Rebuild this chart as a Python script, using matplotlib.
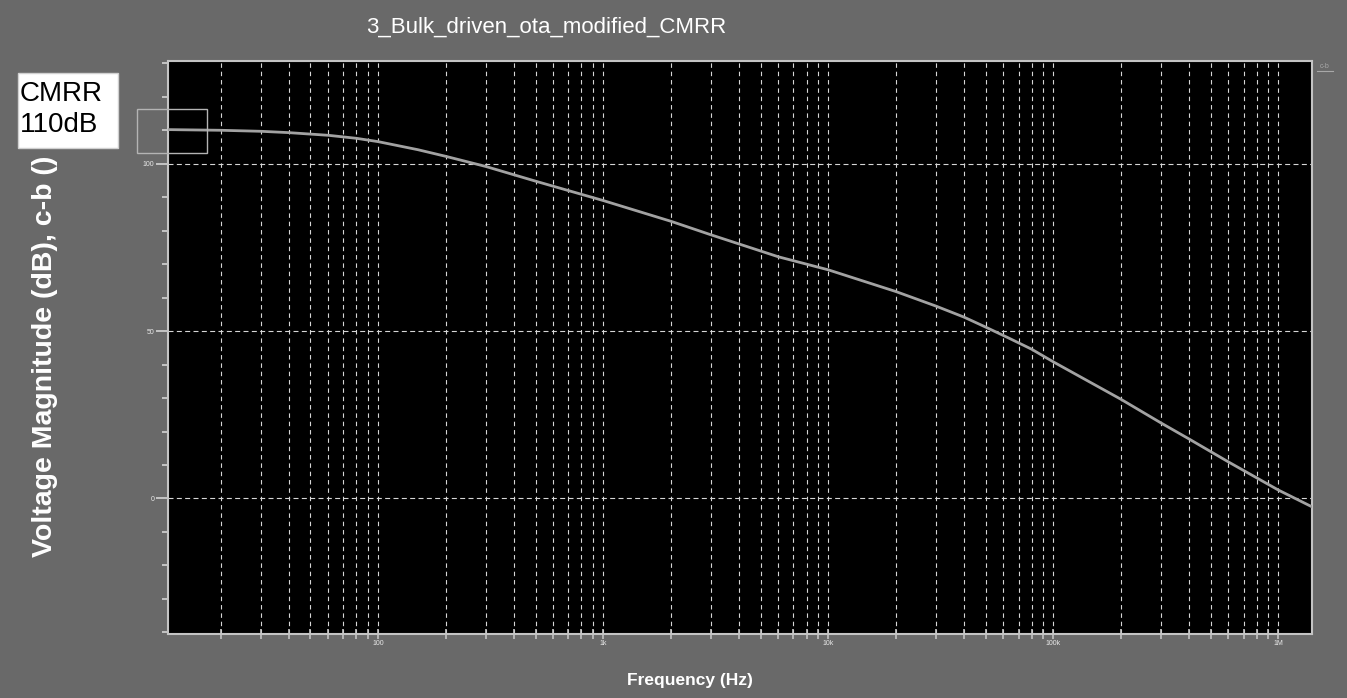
import matplotlib
matplotlib.use("Agg")
import matplotlib.pyplot as plt
from matplotlib.patches import Rectangle
from matplotlib.ticker import FixedLocator, FixedFormatter, NullFormatter
import numpy as np

# ---- data ----
freq_hz = [11.6, 20, 30, 40, 60, 80, 100, 150, 200, 300, 500, 1000, 2000, 3000,
           6000, 10000, 20000, 30000, 40000, 50000, 63000, 80000, 100000,
           200000, 300000, 400000, 600000, 1000000, 1410000]
mag_db = [110.2, 110.0, 109.7, 109.3, 108.5, 107.6, 106.6, 104.2, 102.2, 99.2,
          94.8, 89.0, 82.8, 78.8, 72.2, 68.3, 61.8, 57.5, 54.2, 51.2, 48.0,
          44.6, 40.8, 29.6, 22.6, 17.8, 10.9, 2.5, -2.5]

x_major = [100, 1000, 10000, 100000, 1000000]
x_major_labels = ["100", "1k", "10k", "100k", "1M"]
y_major = [0, 50, 100]
y_major_labels = ["0", "50", "100"]

title = "3_Bulk_driven_ota_modified_CMRR"
ylabel = "Voltage Magnitude (dB), c-b ()"
xlabel = "Frequency (Hz)"
note_lines = ["CMRR", "110dB"]

# ---- style ----
plt.rcParams['font.family'] = ['Liberation Sans', 'DejaVu Sans']
BG = "#696969"
GRID = "#d6d6d6"
SPINE = "#c4c4c4"
CURVE = "#a2a2a2"

W, H = 1347, 698
fig = plt.figure(figsize=(W / 100, H / 100), dpi=100, facecolor=BG)
ax = fig.add_axes([167.7 / W, 1 - 634 / H, (1312 - 167.7) / W, (634 - 61) / H])
ax.set_facecolor("black")

ax.plot(freq_hz, mag_db, color=CURVE, lw=2.0, zorder=3, solid_joinstyle="round")

ax.set_xscale("log")
ax.set_xlim(11.6, 1.41e6)
ax.set_ylim(-40.5, 130.7)

# x ticks
ax.xaxis.set_major_locator(FixedLocator(x_major))
ax.xaxis.set_major_formatter(FixedFormatter(x_major_labels))
minor_x = [m * 10 ** d for d in range(1, 7) for m in range(2, 10)]
ax.xaxis.set_minor_locator(FixedLocator(minor_x))
ax.xaxis.set_minor_formatter(NullFormatter())

# y ticks
ax.yaxis.set_major_locator(FixedLocator(y_major))
ax.yaxis.set_major_formatter(FixedFormatter(y_major_labels))
minor_y = [v for v in range(-40, 131, 10) if v not in y_major]
ax.yaxis.set_minor_locator(FixedLocator(minor_y))
ax.yaxis.set_minor_formatter(NullFormatter())

ax.tick_params(axis="x", which="both", direction="inout", length=6.5, width=1.2,
               colors=SPINE, labelsize=5, labelcolor="#e8e8e8", pad=1)
ax.tick_params(axis="y", which="major", direction="out", length=8.5, width=1.4,
               colors=SPINE, labelsize=5, labelcolor="#e8e8e8", pad=1)
ax.tick_params(axis="y", which="minor", direction="out", length=4.5, width=1.4,
               colors=SPINE)

# grid
ax.grid(True, axis="x", which="both", color=GRID, lw=0.8, dashes=(4, 3.5), zorder=1)
ax.grid(True, axis="y", which="major", color=GRID, lw=0.8, dashes=(4.5, 3), zorder=1)

for s in ax.spines.values():
    s.set_color(SPINE)
    s.set_linewidth(1.5)

# texts
fig.text(546 / W, 1 - 27 / H, title, color="white", fontsize=16,
         ha="center", va="center")
fig.text(45 / W, 1 - 356 / H, ylabel, color="white", fontsize=20.5,
         fontweight="bold", rotation=90, ha="center", va="center")
fig.text(690 / W, 1 - 681 / H, xlabel, color="white", fontsize=12.5,
         fontweight="bold", ha="center", va="center")

# CMRR annotation box
fig.patches.append(Rectangle((18 / W, 1 - 148 / H), 100 / W, 75 / H,
                             transform=fig.transFigure, facecolor="white",
                             edgecolor="#d0d0d0", lw=1, zorder=5))
fig.text(20 / W, 1 - 100.7 / H, note_lines[0], color="black", fontsize=20,
         ha="left", va="baseline", zorder=6)
fig.text(20 / W, 1 - 131.7 / H, note_lines[1], color="black", fontsize=20,
         ha="left", va="baseline", zorder=6)

# marker rectangle near the curve start
fig.patches.append(Rectangle((136.7 / W, 1 - 152.7 / H), 70.6 / W, 43.4 / H,
                             transform=fig.transFigure, facecolor="none",
                             edgecolor="#b4b4b4", lw=1, zorder=7))

# small legend tag top right
fig.text(1325 / W, 1 - 66 / H, "c-b", color="#a8a8a8", fontsize=5,
         ha="center", va="center")
fig.add_artist(plt.Line2D([1317 / W, 1333 / W], [1 - 71 / H, 1 - 71 / H],
                          transform=fig.transFigure, color="#a8a8a8", lw=0.8))

fig.savefig("out.png", dpi=100, facecolor=BG)
